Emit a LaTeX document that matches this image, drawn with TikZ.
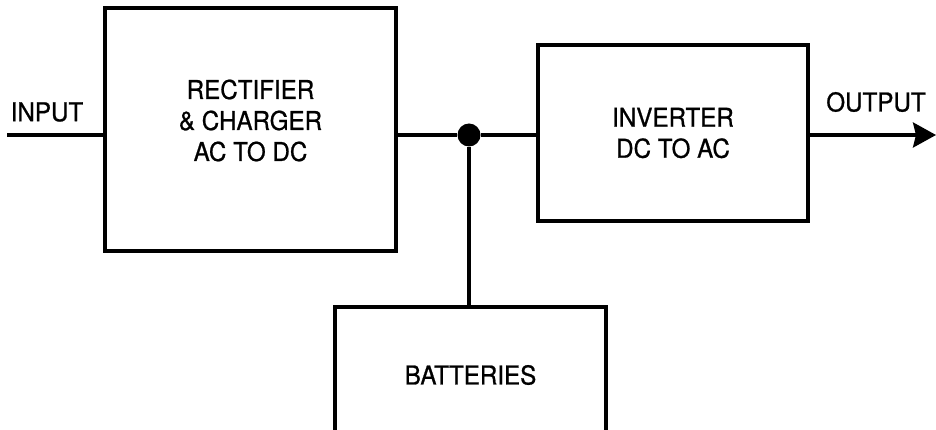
\documentclass[tikz,border=0pt]{standalone}
\usepackage{fontspec}
\setmainfont{TeX Gyre Heros}
\newfontfamily\diagfont[FakeStretch=0.93,FakeBold=0.8]{TeX Gyre Heros}
\usetikzlibrary{arrows.meta,positioning,calc}

\begin{document}
\begin{tikzpicture}[x=1pt,y=-1pt,
  wire/.style={line width=3.4pt},
  flow/.style={wire,-{Stealth[length=23pt,width=25pt,inset=3pt]}},
  block/.style={draw,line width=3.4pt,inner sep=0pt},
  tag/.style={align=center,inner sep=0pt,font=\diagfont\fontsize{26}{31}\selectfont},
  junction/.style={circle,fill=black,inner sep=0pt,minimum size=23pt}
]
  \useasboundingbox (0,0) rectangle (936,430);
  \clip (0,0) rectangle (936,430);

  % blocks
  \node[block,minimum width=291pt,minimum height=243pt] (rect) at (250.5,129.5) {};
  \node[block,minimum width=270pt,minimum height=176pt] (inv) at (673,133) {};
  \node[block,minimum width=271pt,minimum height=136pt] (bat) at (470.5,375) {};
  \node[tag] (recttxt) at ($(rect.center)+(0,-9)$) {RECTIFIER\\\& CHARGER\\AC TO DC};
  \node[tag] (invtxt) at (inv.center) {INVERTER\\DC TO AC};
  \node[tag] (battxt) at (bat.center) {BATTERIES};

  % bus and junction
  \node[junction] (junc) at (469,135) {};
  \coordinate (in) at (7,135);
  \coordinate (out) at (936,135);
  \draw[wire] (in) -- (in -| rect.west);
  \draw[wire] (junc -| rect.east) -- (junc) -- (junc -| inv.west);
  \draw[wire] (junc) -- (junc |- bat.north);
  \draw[flow] (out -| inv.east) -- (out);

  % labels
  \node[tag] (inlabel) at (47,112) {INPUT};
  \node[tag] (outlabel) at (876,102) {OUTPUT};
\end{tikzpicture}
\end{document}
